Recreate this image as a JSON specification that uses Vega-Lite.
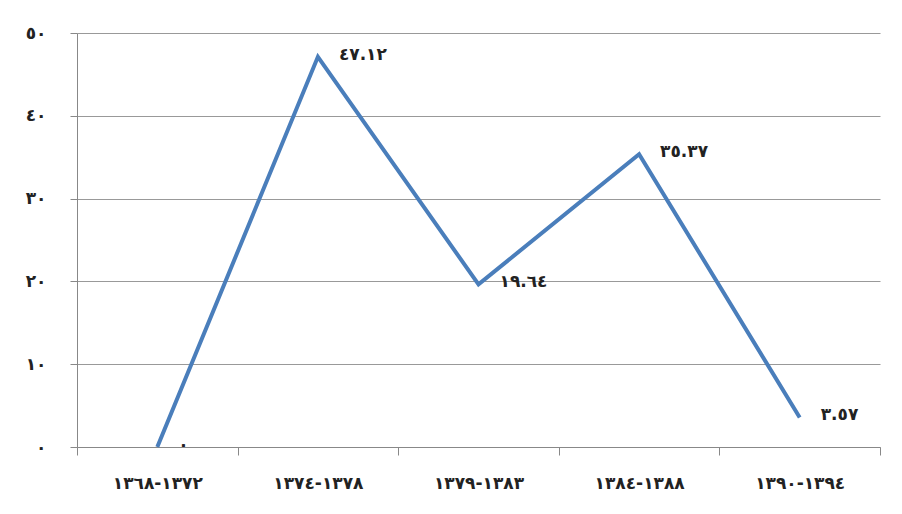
{
  "$schema": "https://vega.github.io/schema/vega-lite/v6.json",
  "width": 803,
  "height": 414,
  "autosize": "none",
  "padding": {"left": 77, "top": 33, "right": 22, "bottom": 67},
  "background": "white",
  "config": {"view": {"stroke": null}, "font": "DejaVu Sans"},
  "data": {
    "values": [
      {"period": "١٣٦٨‎-‎١٣٧٢", "value": 0, "label": "٠"},
      {"period": "١٣٧٤‎-‎١٣٧٨", "value": 47.12, "label": "٤٧.١٢"},
      {"period": "١٣٧٩‎-‎١٣٨٣", "value": 19.64, "label": "١٩.٦٤"},
      {"period": "١٣٨٤‎-‎١٣٨٨", "value": 35.37, "label": "٣٥.٣٧"},
      {"period": "١٣٩٠‎-‎١٣٩٤", "value": 3.57, "label": "٣.٥٧"}
    ]
  },
  "encoding": {
    "x": {
      "field": "period",
      "type": "ordinal",
      "sort": null,
      "scale": {"type": "band", "paddingInner": 0, "paddingOuter": 0},
      "axis": {
        "title": null,
        "labelAngle": 0,
        "labelFont": "DejaVu Sans",
        "labelFontSize": 17,
        "labelFontWeight": "bold",
        "labelColor": "#222",
        "labelPadding": 20,
        "tickBand": "extent",
        "tickSize": 8,
        "tickColor": "#888",
        "domainColor": "#888",
        "grid": false
      }
    },
    "y": {
      "field": "value",
      "type": "quantitative",
      "scale": {"domain": [0, 50], "nice": false},
      "axis": {
        "title": null,
        "values": [0, 10, 20, 30, 40, 50],
        "labelExpr": "['٠','١٠','٢٠','٣٠','٤٠','٥٠'][datum.value/10]",
        "labelFont": "DejaVu Sans",
        "labelFontSize": 17,
        "labelFontWeight": "bold",
        "labelColor": "#222",
        "labelPadding": 24,
        "tickSize": 7,
        "tickColor": "#888",
        "domainColor": "#888",
        "gridColor": "#999",
        "gridWidth": 1
      }
    }
  },
  "layer": [
    {
      "mark": {"type": "line", "color": "#4a7ebb", "strokeWidth": 4}
    },
    {
      "mark": {"type": "text", "align": "left", "baseline": "middle", "dx": 21, "dy": -2, "fontSize": 17, "fontWeight": "bold", "font": "DejaVu Sans", "color": "#222"},
      "encoding": {"text": {"field": "label"}}
    }
  ]
}
